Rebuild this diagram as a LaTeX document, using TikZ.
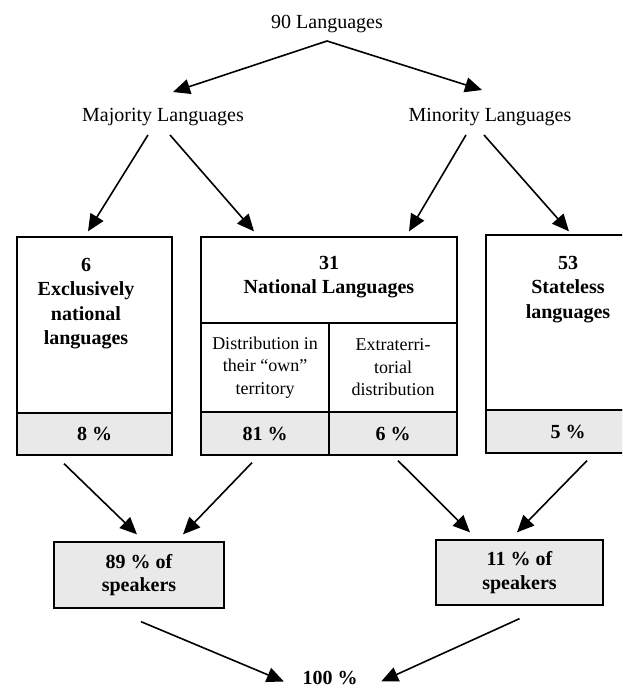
\documentclass[tikz,border=0pt]{standalone}
\usepackage{fontspec}
\setmainfont{Liberation Serif}
\usetikzlibrary{arrows.meta}
\colorlet{band}{gray!17}

\begin{document}
\begin{tikzpicture}[x=1pt, y=-1pt,
        lbl/.style={inner sep=0pt, font=\fontsize{20}{24}\selectfont},
        head/.style={inner sep=0pt, align=center, font=\fontsize{20}{24.5}\selectfont\bfseries},
        cell/.style={draw, line width=1.3pt, inner sep=0pt, align=center},
        small/.style={font=\fontsize{18}{22.5}\selectfont},
        pct/.style={cell, fill=band, font=\fontsize{20}{23.5}\selectfont\bfseries},
        arr/.style={-{Triangle[length=17pt,width=15pt]}, line width=1.6pt}]
            \path [use as bounding box, clip] (0,0) rectangle (622,688);
            \node [lbl] (total) at (327,24) {90 Languages};
            \node [lbl] (major) at (163,117) {Majority Languages};
            \node [lbl] (minor) at (490,117) {Minority Languages};
            \coordinate (fork) at ([yshift=-8pt]total.south);
            \node [cell, minimum width=155, minimum height=176] (excl) at (94.5,325) {};
            \node [pct, minimum width=155, minimum height=42] (excl-pct) at (94.5,434) {8 \%};
            \node [head, anchor=north] (excl-lbl) at (86,258) {6\\Exclusively\\national\\languages};
            \node [cell, minimum width=256, minimum height=86] (natl) at (329,280) {};
            \node [head, anchor=north] (natl-lbl) at (329,256) {31\\National Languages};
            \node [cell, small, minimum width=128, minimum height=89] (own) at (265,367.5) {Distribution in\\their “own”\\territory};
            \node [cell, small, minimum width=128, minimum height=89] (extra) at (393,367.5) {Extraterri-\\torial\\distribution};
            \node [pct, minimum width=128, minimum height=43] (own-pct) at (265,433.5) {81 \%};
            \node [pct, minimum width=128, minimum height=43] (extra-pct) at (393,433.5) {6 \%};
            \node [cell, minimum width=164, minimum height=175] (stateless) at (568,322.5) {};
            \node [pct, minimum width=164, minimum height=43] (stateless-pct) at (568,431.5) {5 \%};
            \node [head, anchor=north] (stateless-lbl) at (568,256) {53\\Stateless\\languages};
            \node [pct, minimum width=170, minimum height=66] (spk-major) at (139,575) {89 \% of\\speakers};
            \node [pct, minimum width=167, minimum height=65] (spk-minor) at (519.5,572.5) {11 \% of\\speakers};
            \node [lbl, font=\fontsize{20}{24}\selectfont\bfseries, anchor=base] (all) at (330,684) {100 \%};
            \draw [arr] (fork) -- ([xshift=10pt, yshift=16pt]major.north);
            \draw [arr] (fork) -- ([xshift=-8pt, yshift=18pt]minor.north);
            \draw [arr] ([xshift=-15pt, yshift=-9pt]major.south) -- ([xshift=-6.5pt, yshift=5pt]excl.north);
            \draw [arr] ([xshift=7pt, yshift=-9pt]major.south) -- ([xshift=-75pt, yshift=5pt]natl.north);
            \draw [arr] ([xshift=-24pt, yshift=-9pt]minor.south) -- ([xshift=80pt, yshift=5pt]natl.north);
            \draw [arr] ([xshift=-6pt, yshift=-9pt]minor.south) -- ([xshift=1pt, yshift=3pt]stateless.north);
            \draw [arr] ([xshift=-30.5pt, yshift=-8pt]excl-pct.south) -- ([xshift=-2pt, yshift=7pt]spk-major.north);
            \draw [arr] ([xshift=-13pt, yshift=-7pt]own-pct.south) -- ([xshift=44pt, yshift=7pt]spk-major.north);
            \draw [arr] ([xshift=5pt, yshift=-5pt]extra-pct.south) -- ([xshift=-49.5pt, yshift=7pt]spk-minor.north);
            \draw [arr] ([xshift=19pt, yshift=-7pt]stateless-pct.south) -- ([xshift=-2.5pt, yshift=7pt]spk-minor.north);
            \draw [arr] ([xshift=2pt, yshift=-13pt]spk-major.south) -- ([xshift=-18.5pt, yshift=-4pt]all.west);
            \draw [arr] ([yshift=-13pt]spk-minor.south) -- ([xshift=23.5pt, yshift=-4pt]all.east);
        \end{tikzpicture}
\end{document}
